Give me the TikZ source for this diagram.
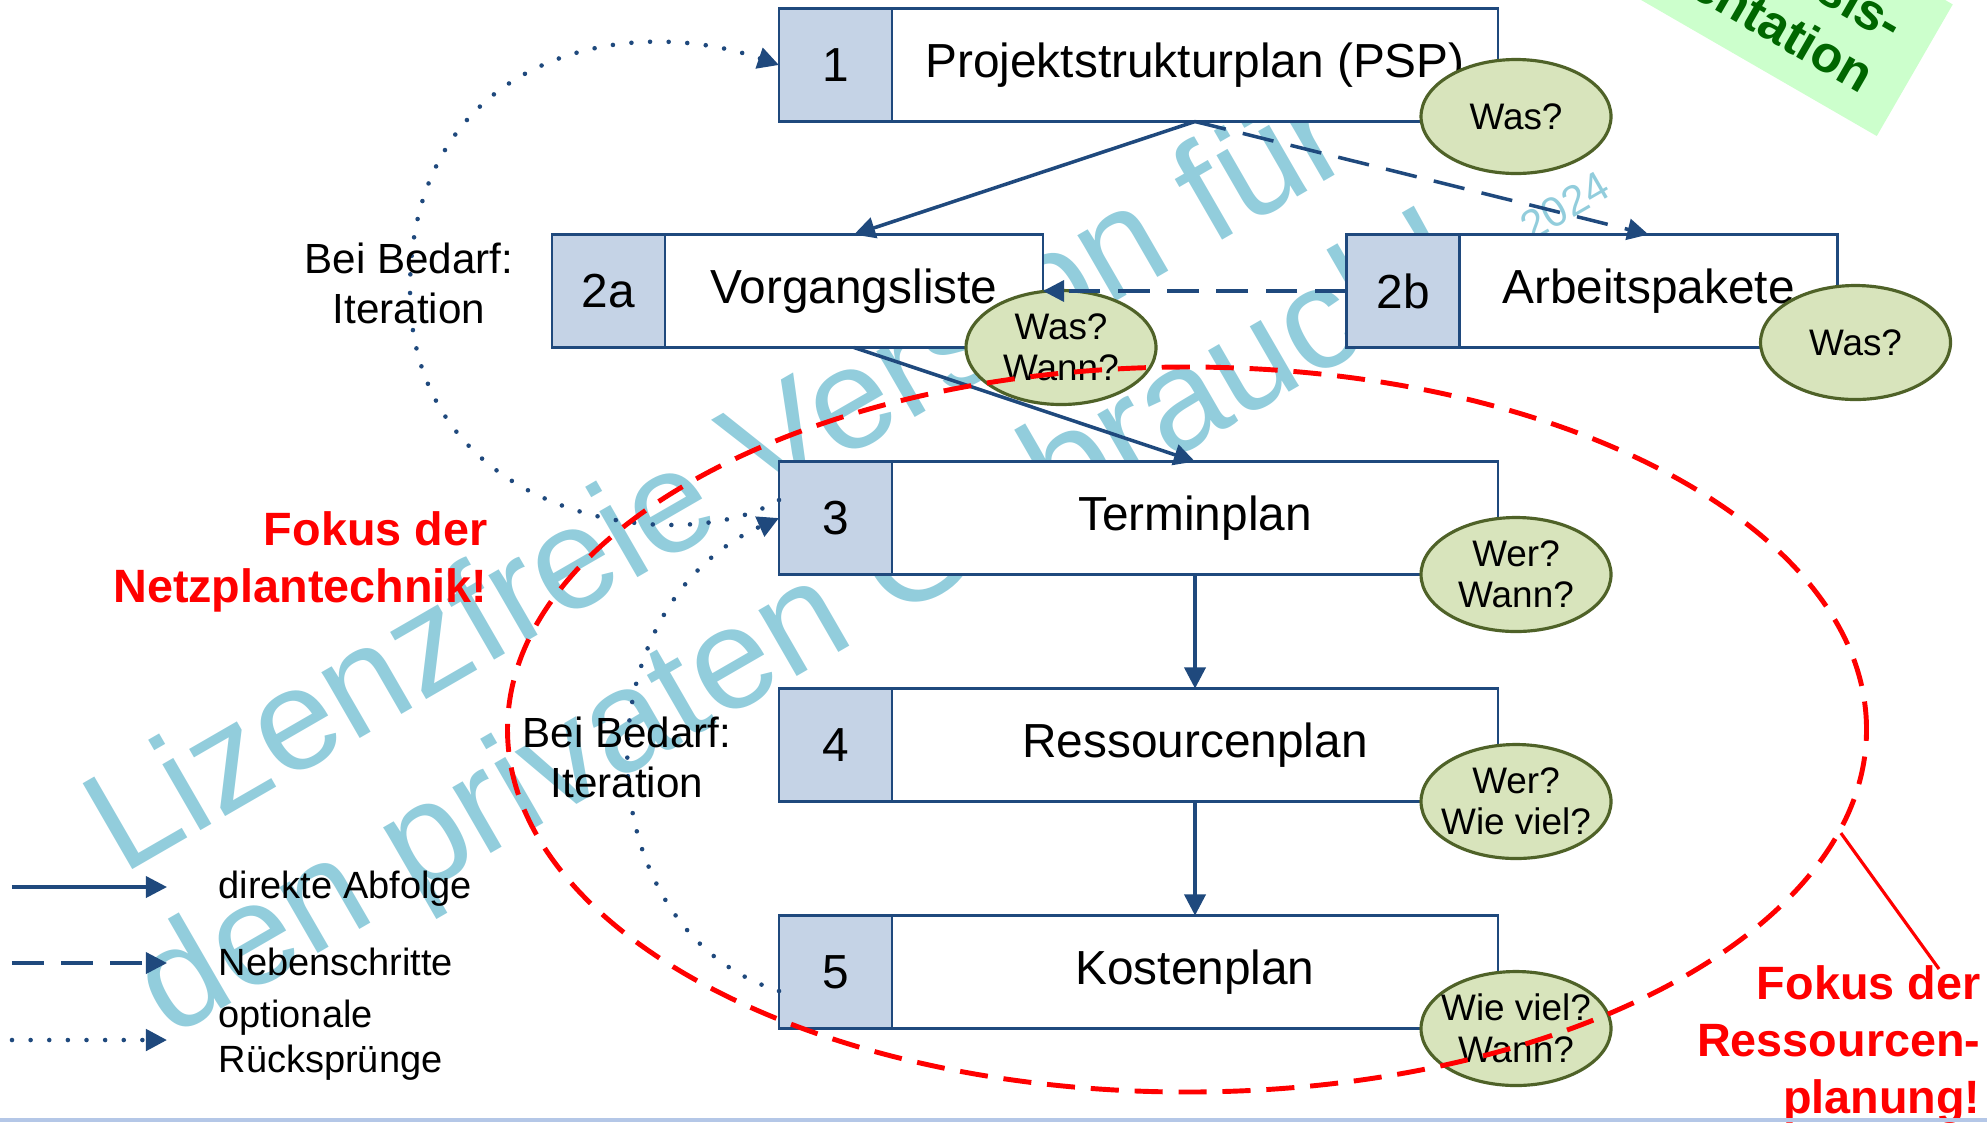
\documentclass[tikz,border=0pt]{standalone}
\usepackage{fontspec}
\setmainfont{Liberation Sans}
\usepackage{xcolor}
\usetikzlibrary{positioning}
\usetikzlibrary{shapes.geometric}
\usetikzlibrary{arrows.meta}
\definecolor{planblue}{HTML}{1F497D}
\definecolor{cellblue}{HTML}{C5D3E6}
\definecolor{qfill}{HTML}{D8E4BC}
\definecolor{qline}{HTML}{4F6228}
\definecolor{wmark}{HTML}{92CDDC}
\definecolor{focusred}{HTML}{FF0000}
\definecolor{basisfill}{HTML}{CCFFCC}
\definecolor{basisgreen}{HTML}{006600}
\definecolor{bottomline}{HTML}{B4C7E7}
\tikzset{numcell/.style = {shape=rectangle,draw=planblue,fill=cellblue,line width=0.8pt,minimum width=1.13cm,minimum height=1.13cm,inner sep=0pt,outer sep=0pt,font=\fontsize{13.6}{16}\selectfont}}
\tikzset{plancell/.style = {numcell,fill=white,minimum width=6.06cm}}
\tikzset{smallcell/.style = {plancell,minimum width=3.78cm}}
\tikzset{question/.style = {shape=ellipse,draw=qline,fill=qfill,line width=0.9pt,minimum width=1.9cm,minimum height=1.14cm,inner sep=-0.15cm,align=center,font=\fontsize{10.5}{11.8}\selectfont}}
\tikzset{direct/.style = {draw=planblue,line width=1pt,-{Triangle[length=6pt,width=6pt]}}}
\tikzset{side/.style = {direct,dash pattern=on 9pt off 5pt}}
\tikzset{back/.style = {direct,line width=1.3pt,line cap=round,dash pattern=on 0pt off 5.3pt}}
\tikzset{note/.style = {align=center,inner sep=0pt,font=\fontsize{12}{14.3}\selectfont}}
\tikzset{focus/.style = {align=right,text=focusred,inner sep=0pt,font=\fontsize{13.3}{16.2}\selectfont\bfseries}}
\tikzset{legend/.style = {inner sep=0pt,align=left,font=\fontsize{10.8}{12.8}\selectfont}}
\tikzset{watermark/.style = {rotate=30,text=wmark,align=center,inner sep=0pt}}

\begin{document}
\begin{tikzpicture}
                    \useasboundingbox (0,0) rectangle (19.87,-11.22);
                    \clip (0,0) rectangle (19.87,-11.22);

                    \node[watermark,font=\fontsize{41}{47}\selectfont] (wm) at (7.63,-5.58) {Lizenzfreie Version für\\den privaten Gebrauch!};
                    \node[watermark,font=\fontsize{12}{14}\selectfont] (year) at (15.65,-2.06) {2024};

                    \node[rotate=-30,anchor=south east,fill=basisfill,text=basisgreen,minimum height=1.52cm,text width=7cm,align=right,inner xsep=0.35cm,inner ysep=0pt,font=\fontsize{14.6}{16.8}\selectfont\bfseries] (basis) at (18.77,-1.37) {Basis-\\dokumentation};

                    \node[numcell] (n1) at (8.355,-0.65) {1};
                    \node[plancell,right=0pt of n1] (t1) {Projektstrukturplan (PSP)};
                    \node[numcell] (n2a) at (6.085,-2.91) {2a};
                    \node[smallcell,right=0pt of n2a] (t2a) {Vorgangsliste};
                    \node[numcell] (n2b) at (14.03,-2.91) {2b};
                    \node[smallcell,right=0pt of n2b] (t2b) {Arbeitspakete};
                    \node[numcell] (n3) at (8.355,-5.18) {3};
                    \node[plancell,right=0pt of n3] (t3) {Terminplan};
                    \node[numcell] (n4) at (8.355,-7.45) {4};
                    \node[plancell,right=0pt of n4] (t4) {Ressourcenplan};
                    \node[numcell] (n5) at (8.355,-9.72) {5};
                    \node[plancell,right=0pt of n5] (t5) {Kostenplan};

                    \node[question] (q1) at ([xshift=0.18cm,yshift=0.05cm]t1.south east) {Was?};
                    \node[question] (q2a) at ([xshift=0.18cm]t2a.south east) {Was?\\Wann?};
                    \node[question] (q2b) at ([xshift=0.18cm,yshift=0.05cm]t2b.south east) {Was?};
                    \node[question] (q3) at ([xshift=0.18cm]t3.south east) {Wer?\\Wann?};
                    \node[question] (q4) at ([xshift=0.18cm]t4.south east) {Wer?\\Wie viel?};
                    \node[question] (q5) at ([xshift=0.18cm]t5.south east) {Wie viel?\\Wann?};

                    \draw[direct] (t1.south) -- (t2a.north);
                    \draw[side] (t1.south) -- (t2b.north);
                    \draw[side] (n2b.west) -- (t2a.east);
                    \draw[direct] (t2a.south) -- (t3.north);
                    \draw[direct] (t3.south) -- (t4.north);
                    \draw[direct] (t4.south) -- (t5.north);
                    \draw[back] ([yshift=0.18cm]n3.west) .. controls (6.8,-5.6) and (4.1,-5.2) .. (4.1,-2.9)
                                .. controls (4.1,-0.6) and (6.2,-0.1) .. (n1.west);
                    \draw[back] ([yshift=-0.19cm]n5.west) .. controls (5.85,-9.3) and (5.75,-6.1) .. (n3.west);

                    \node[note] (iter1) at (4.09,-2.835) {Bei Bedarf:\\Iteration};
                    \node[note] (iter2) at (6.27,-7.575) {Bei Bedarf:\\Iteration};

                    \coordinate (l1a) at (0.12,-8.87);
                    \coordinate (l1b) at (1.67,-8.87);
                    \coordinate (l2a) at (0.12,-9.63);
                    \coordinate (l2b) at (1.67,-9.63);
                    \coordinate (l3a) at (0.12,-10.40);
                    \coordinate (l3b) at (1.67,-10.40);
                    \draw[direct] (l1a) -- (l1b);
                    \draw[side] (l2a) -- (l2b);
                    \draw[back] (l3a) -- (l3b);
                    \node[legend,anchor=base west] (leg1) at (2.18,-8.98) {direkte Abfolge};
                    \node[legend,anchor=base west] (leg2) at (2.18,-9.75) {Nebenschritte};
                    \node[legend,anchor=west] (leg3) at (2.18,-10.40) {optionale\\Rücksprünge};

                    \node[shape=ellipse,draw=focusred,line width=1.4pt,dash pattern=on 8pt off 4.5pt,minimum width=13.59cm,minimum height=7.25cm,inner sep=0pt] (focus) at (11.87,-7.295) {};
                    \node[focus,anchor=east] (fnetz) at (4.88,-5.62) {Fokus der\\Netzplantechnik!};
                    \node[focus,anchor=east] (fres) at (19.81,-10.445) {Fokus der\\Ressourcen-\\planung!};
                    \draw[focusred,line width=0.9pt] (focus.-9) -- ([xshift=-0.42cm,yshift=-0.04cm]fres.north east);

                    \fill[bottomline] (0,-11.18) rectangle (19.87,-11.22);
                \end{tikzpicture}
\end{document}
